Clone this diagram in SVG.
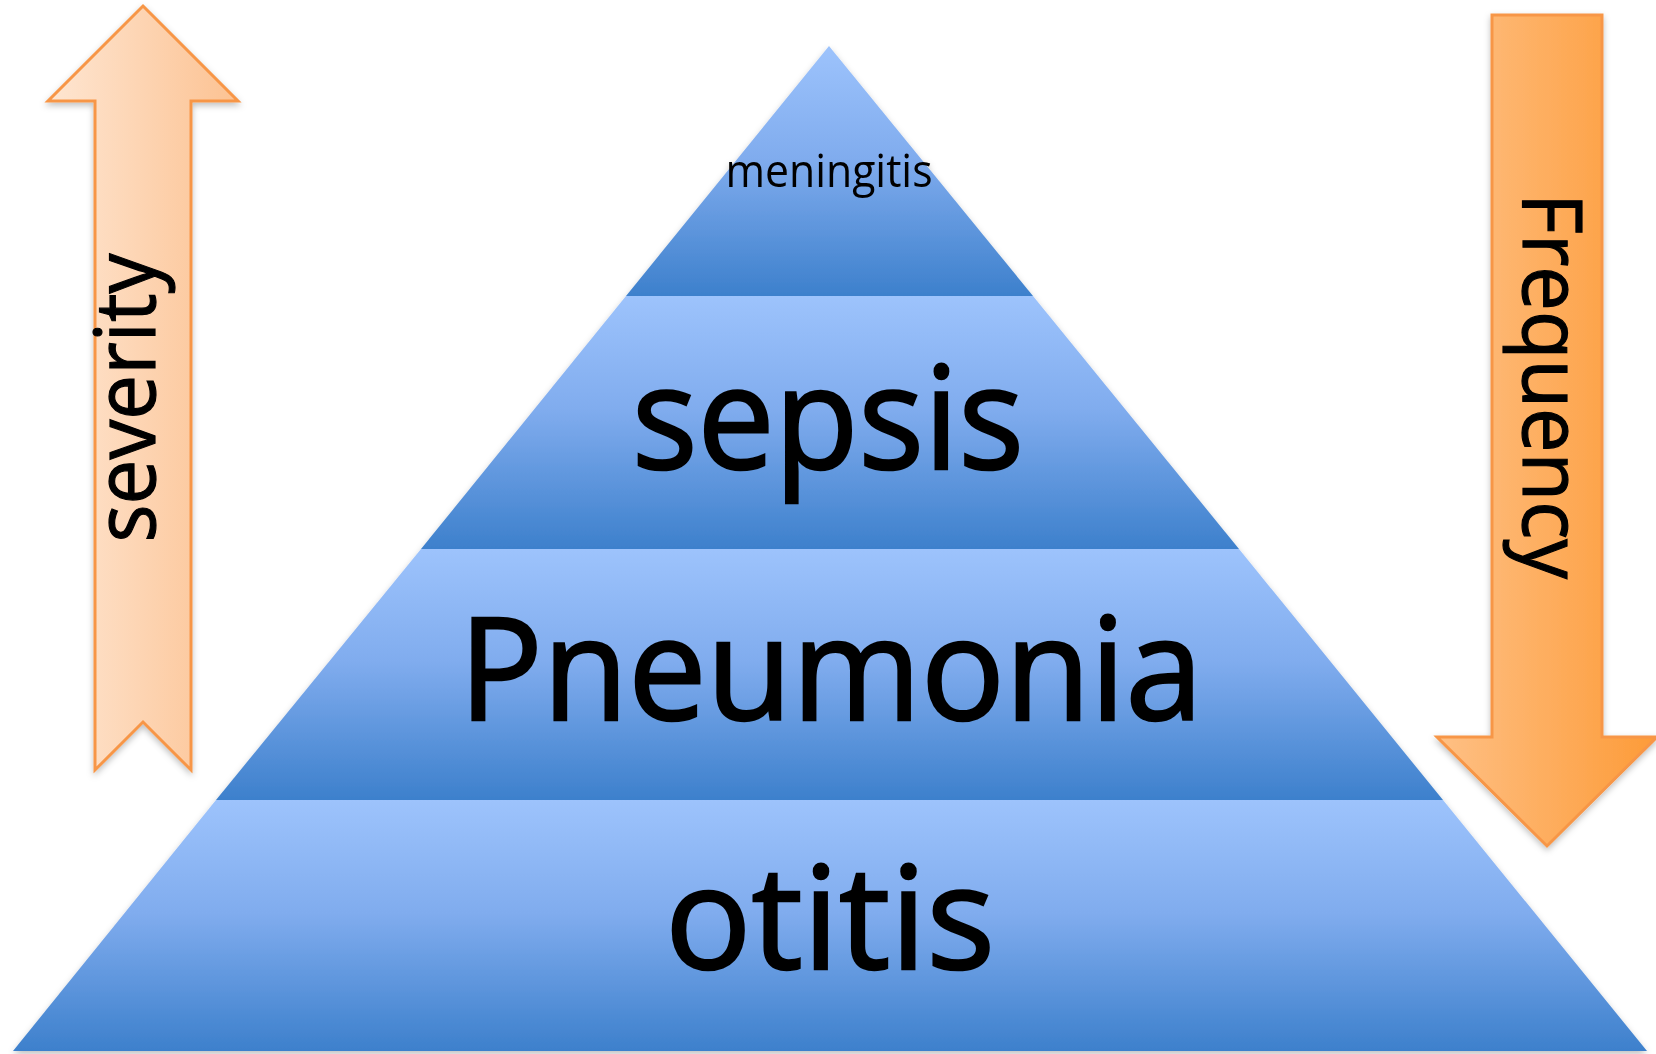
<svg xmlns="http://www.w3.org/2000/svg" width="1656" height="1054" viewBox="0 0 1656 1054">
<style>
.lbl{font-family:"Open Sans","Liberation Sans",sans-serif;fill:#000;}
.big{stroke:#000;stroke-width:2.5;}
.mid{stroke:#000;stroke-width:1.2;}
.band{fill:url(#blue);}
.arrow{stroke:#f79646;stroke-width:3;stroke-linejoin:miter;}
</style>
<defs>
<linearGradient id="blue" x1="0" y1="0" x2="0" y2="1">
<stop offset="0" stop-color="#9dc3fc"/>
<stop offset="0.45" stop-color="#80acee"/>
<stop offset="1" stop-color="#3d80cc"/>
</linearGradient>
<linearGradient id="orangeL" x1="0" y1="0" x2="1" y2="0">
<stop offset="0" stop-color="#fee6d2"/>
<stop offset="1" stop-color="#fcc292"/>
</linearGradient>
<linearGradient id="orangeR" x1="0" y1="0" x2="1" y2="0">
<stop offset="0" stop-color="#fec085"/>
<stop offset="1" stop-color="#fd9b38"/>
</linearGradient>
<filter id="sh" x="-10%" y="-10%" width="120%" height="120%">
<feDropShadow dx="0" dy="3" stdDeviation="3" flood-color="#000" flood-opacity="0.25"/>
</filter>
</defs>
<rect width="1656" height="1054" fill="#fff"/>
<g id="pyramid" filter="url(#sh)">
<g id="band-meningitis">
<polygon class="band" points="829,46 1033,296 626,296"/>
<text class="lbl" x="829" y="187" font-size="46" text-anchor="middle" textLength="207" lengthAdjust="spacingAndGlyphs">meningitis</text>
</g>
<g id="band-sepsis">
<polygon class="band" points="626,296 1033,296 1239,549 421,549"/>
<text class="lbl big" x="828" y="469" font-size="143" text-anchor="middle" textLength="392" lengthAdjust="spacingAndGlyphs">sepsis</text>
</g>
<g id="band-pneumonia">
<polygon class="band" points="421,549 1239,549 1443,800 216,800"/>
<text class="lbl big" x="831" y="720" font-size="143" text-anchor="middle" textLength="744" lengthAdjust="spacingAndGlyphs">Pneumonia</text>
</g>
<g id="band-otitis">
<polygon class="band" points="216,800 1443,800 1647,1051 13,1051"/>
<text class="lbl big" x="830" y="969" font-size="143" text-anchor="middle" textLength="330" lengthAdjust="spacingAndGlyphs">otitis</text>
</g>
</g>
<g id="severity-arrow">
<polygon class="arrow" fill="url(#orangeL)" filter="url(#sh)" points="143,6 238,101 191,101 191,770 143,722 95,770 95,101 48,101"/>
<text class="lbl mid" transform="translate(155,398) rotate(-90)" x="0" y="0" font-size="84" text-anchor="middle" textLength="289" lengthAdjust="spacingAndGlyphs">severity</text>
</g>
<g id="frequency-arrow">
<polygon class="arrow" fill="url(#orangeR)" filter="url(#sh)" points="1492,15 1602,15 1602,737 1657,737 1547,846 1437,737 1492,737"/>
<text class="lbl mid" transform="translate(1523,386) rotate(90)" x="0" y="0" font-size="82" text-anchor="middle" textLength="386" lengthAdjust="spacingAndGlyphs">Frequency</text>
</g>
<g id="connectors"/>
</svg>
